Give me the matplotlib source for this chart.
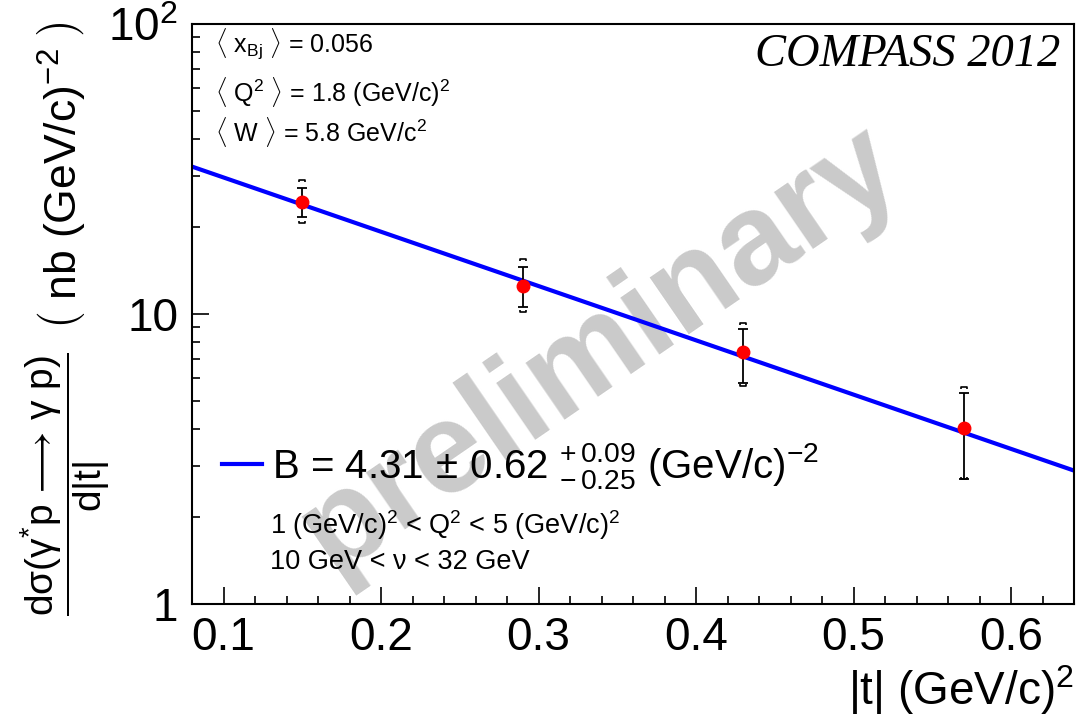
import numpy as np
import matplotlib
matplotlib.use("Agg")
import matplotlib.pyplot as plt
from matplotlib.path import Path
from matplotlib.ticker import FixedLocator, FixedFormatter, MultipleLocator

plt.rcParams['font.family'] = ['Liberation Sans', 'DejaVu Sans']
plt.rcParams['mathtext.fontset'] = 'custom'
plt.rcParams['mathtext.rm'] = 'Liberation Sans'
plt.rcParams['mathtext.it'] = 'Liberation Sans:italic'
plt.rcParams['mathtext.bf'] = 'Liberation Sans:bold'

# ------------------------------
# Daten
# ------------------------------
t_abs = [0.15, 0.29, 0.43, 0.57]
xsec = [24.3, 12.5, 7.4, 4.05]
stat_up = [2.9, 2.0, 1.5, 1.3]
stat_dn = [2.7, 1.9, 1.6, 1.35]
sys_up = [4.7, 3.0, 1.9, 1.55]
sys_dn = [3.7, 2.3, 1.75, 1.35]

# Fit: dsigma/dt = A * exp(-B |t|)
fit_A = 45.5
fit_B = 4.31
t_range = (0.08, 0.64)

t = np.array(t_abs)
y = np.array(xsec)

# ------------------------------
# Plot
# ------------------------------
fig = plt.figure(figsize=(10.78, 7.22), dpi=100)
ax = fig.add_axes([192/1078, 1 - 604/722, 882/1078, 580/722])

# Wasserzeichen
ax.text(0.463, 0.44, "preliminary", transform=ax.transAxes, rotation=34.5,
        fontsize=93, fontweight='bold', color='#cacaca', ha='center',
        va='center', zorder=0)

# Fit-Kurve
tt = np.linspace(t_range[0], t_range[1], 200)
ax.plot(tt, fit_A * np.exp(-fit_B * tt), color='#0000ff', lw=3, zorder=2,
        label=r'B = 4.31$\,\pm\,$0.62 ${}^{+\,0.09}_{-\,0.25}$ (GeV/c)$^{-2}$')

# Systematik-Klammern
top_br = Path([(-1, -0.7), (-1, 0), (1, 0), (1, -0.7)])
bot_br = Path([(-1, 0.7), (-1, 0), (1, 0), (1, 0.7)])
ax.plot(t, y + np.array(sys_up), ls='none', marker=top_br, ms=5,
        mfc='none', mec='black', mew=1.2, zorder=3)
ax.plot(t, y - np.array(sys_dn), ls='none', marker=bot_br, ms=5,
        mfc='none', mec='black', mew=1.2, zorder=3)

# Statistische Fehler + Punkte
ax.errorbar(t, y, yerr=[stat_dn, stat_up], fmt='o', color='red', ms=9,
            ecolor='black', elinewidth=1.3, capsize=3.5, capthick=1.3,
            zorder=4)

ax.set_yscale('log')
ax.set_xlim(*t_range)
ax.set_ylim(1, 100)

# Achsen-Ticks
ax.xaxis.set_major_locator(MultipleLocator(0.1))
ax.xaxis.set_minor_locator(MultipleLocator(0.02))
ax.yaxis.set_major_locator(FixedLocator([1, 10, 100]))
ax.yaxis.set_major_formatter(FixedFormatter(['1', '10', r'$10^{2}$']))
ax.yaxis.set_minor_locator(FixedLocator(
    [m * d for d in (1, 10) for m in range(2, 10)]))
ax.yaxis.set_minor_formatter(FixedFormatter([]))
ax.tick_params(which='both', direction='in', top=False, right=False,
               labelsize=33, width=1.2)
ax.tick_params(which='major', length=12)
ax.tick_params(which='minor', length=6)
ax.tick_params(axis='x', pad=9)
ax.tick_params(axis='y', pad=10)
for s in ax.spines.values():
    s.set_linewidth(1.5)

# Achsentitel
ax.set_xlabel(r'|t| (GeV/c)$^{2}$', fontsize=33, ha='right')
ax.xaxis.set_label_coords(1.0, -0.148)
ax.xaxis.label.set_va('center')

# y-Titel: Bruch und Einheit getrennt
fig.text(65/1078, 1 - 484/722,
         r'$\dfrac{\mathrm{d\sigma(\gamma^{*}p}\,\longrightarrow\,'
         r'\mathrm{\gamma\ p)}}{\mathrm{d|t|}}$',
         rotation=90, fontsize=28, ha='center', va='center')
fig.text(61/1078, 1 - 176/722,
         r'$\left(\ \mathrm{nb\ (GeV/c)^{-2}}\ \right)$',
         rotation=90, fontsize=32, ha='center', va='center')

# Texte
ax.text(0.984, 0.947, "COMPASS 2012", transform=ax.transAxes, ha='right',
        va='center', fontsize=33.5, family='Liberation Serif', style='italic')
ax.text(0.026, 0.964, r'$\langle$ x$_{\mathrm{Bj}}$ $\rangle$ = 0.056',
        transform=ax.transAxes, fontsize=18, va='center')
ax.text(0.026, 0.883, r'$\langle$ Q$^{2}$ $\rangle$ = 1.8 (GeV/c)$^{2}$',
        transform=ax.transAxes, fontsize=18, va='center')
ax.text(0.026, 0.814, r'$\langle$ W $\rangle$ = 5.8 GeV/c$^{2}$',
        transform=ax.transAxes, fontsize=18, va='center')

ax.legend(loc='center left', bbox_to_anchor=(0.034, 0.238), frameon=False,
          fontsize=29, handlelength=1.0, handletextpad=0.25, borderpad=0,
          borderaxespad=0)

ax.text(0.088, 0.136, r'1 (GeV/c)$^{2}$ < Q$^{2}$ < 5 (GeV/c)$^{2}$',
        transform=ax.transAxes, fontsize=19.5, va='center')
ax.text(0.088, 0.072, '10 GeV < ν < 32 GeV',
        transform=ax.transAxes, fontsize=19.5, va='center')

plt.savefig("out.png", dpi=100)
